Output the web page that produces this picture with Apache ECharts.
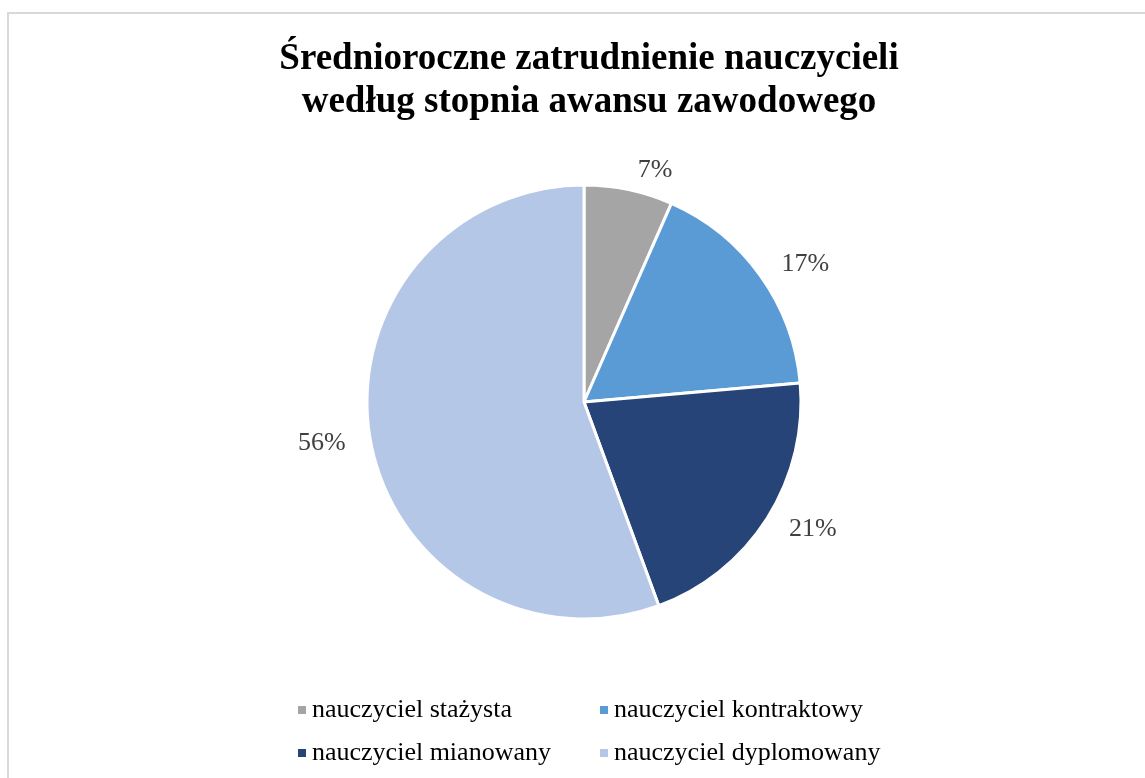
<!DOCTYPE html>
<html>
<head>
<meta charset="utf-8">
<script src="https://cdn.jsdelivr.net/npm/echarts@6/dist/echarts.min.js"></script>
<style>
  html, body { margin: 0; padding: 0; background: #fff; }
  #chart { width: 1145px; height: 778px; }
</style>
</head>
<body>
<div id="chart"></div>
<script>
const categories = [
  'nauczyciel stażysta',
  'nauczyciel kontraktowy',
  'nauczyciel mianowany',
  'nauczyciel dyplomowany'
]
const shares = [6.6, 17.0, 20.8, 55.6]
const colors = ['#a5a5a5', '#5b9bd5', '#264478', '#b4c7e7']

const SERIF = '"Liberation Serif", "Times New Roman", serif'

const chart = echarts.init(document.getElementById('chart'))

const legendBase = {
  orient: 'vertical',
  icon: 'rect',
  itemWidth: 10,
  itemHeight: 10,
  itemGap: 17,
  selectedMode: false,
  textStyle: { fontFamily: SERIF, fontSize: 26, color: '#000' }
}

chart.setOption({
  backgroundColor: '#fff',
  animation: false,
  title: {
    text: 'Średnioroczne zatrudnienie nauczycieli\nwedług stopnia awansu zawodowego',
    left: 584,
    textAlign: 'center',
    top: 33,
    textStyle: {
      fontFamily: SERIF,
      fontSize: 37,
      fontWeight: 'bold',
      color: '#000',
      lineHeight: 43
    }
  },
  graphic: [{
    type: 'rect',
    shape: { x: 8, y: 13, width: 1200, height: 800 },
    style: { fill: 'none', stroke: '#d9d9d9', lineWidth: 2 },
    silent: true
  }],
  legend: [
    Object.assign({}, legendBase, { left: 291, top: 692, data: [categories[0], categories[2]] }),
    Object.assign({}, legendBase, { left: 593, top: 692, data: [categories[1], categories[3]] })
  ],
  series: [{
    type: 'pie',
    center: [584, 402],
    radius: 217,
    startAngle: 90,
    clockwise: true,
    itemStyle: { borderColor: '#fff', borderWidth: 3 },
    label: {
      show: true,
      position: 'outside',
      formatter: (p) => `${Math.round(p.value)}%`,
      fontFamily: SERIF,
      fontSize: 26,
      color: '#404040'
    },
    labelLine: { show: false, length: 20, length2: 0 },
    emphasis: { disabled: true },
    data: categories.map((name, i) => ({
      name,
      value: shares[i],
      itemStyle: { color: colors[i] }
    }))
  }]
})
</script>
</body>
</html>
